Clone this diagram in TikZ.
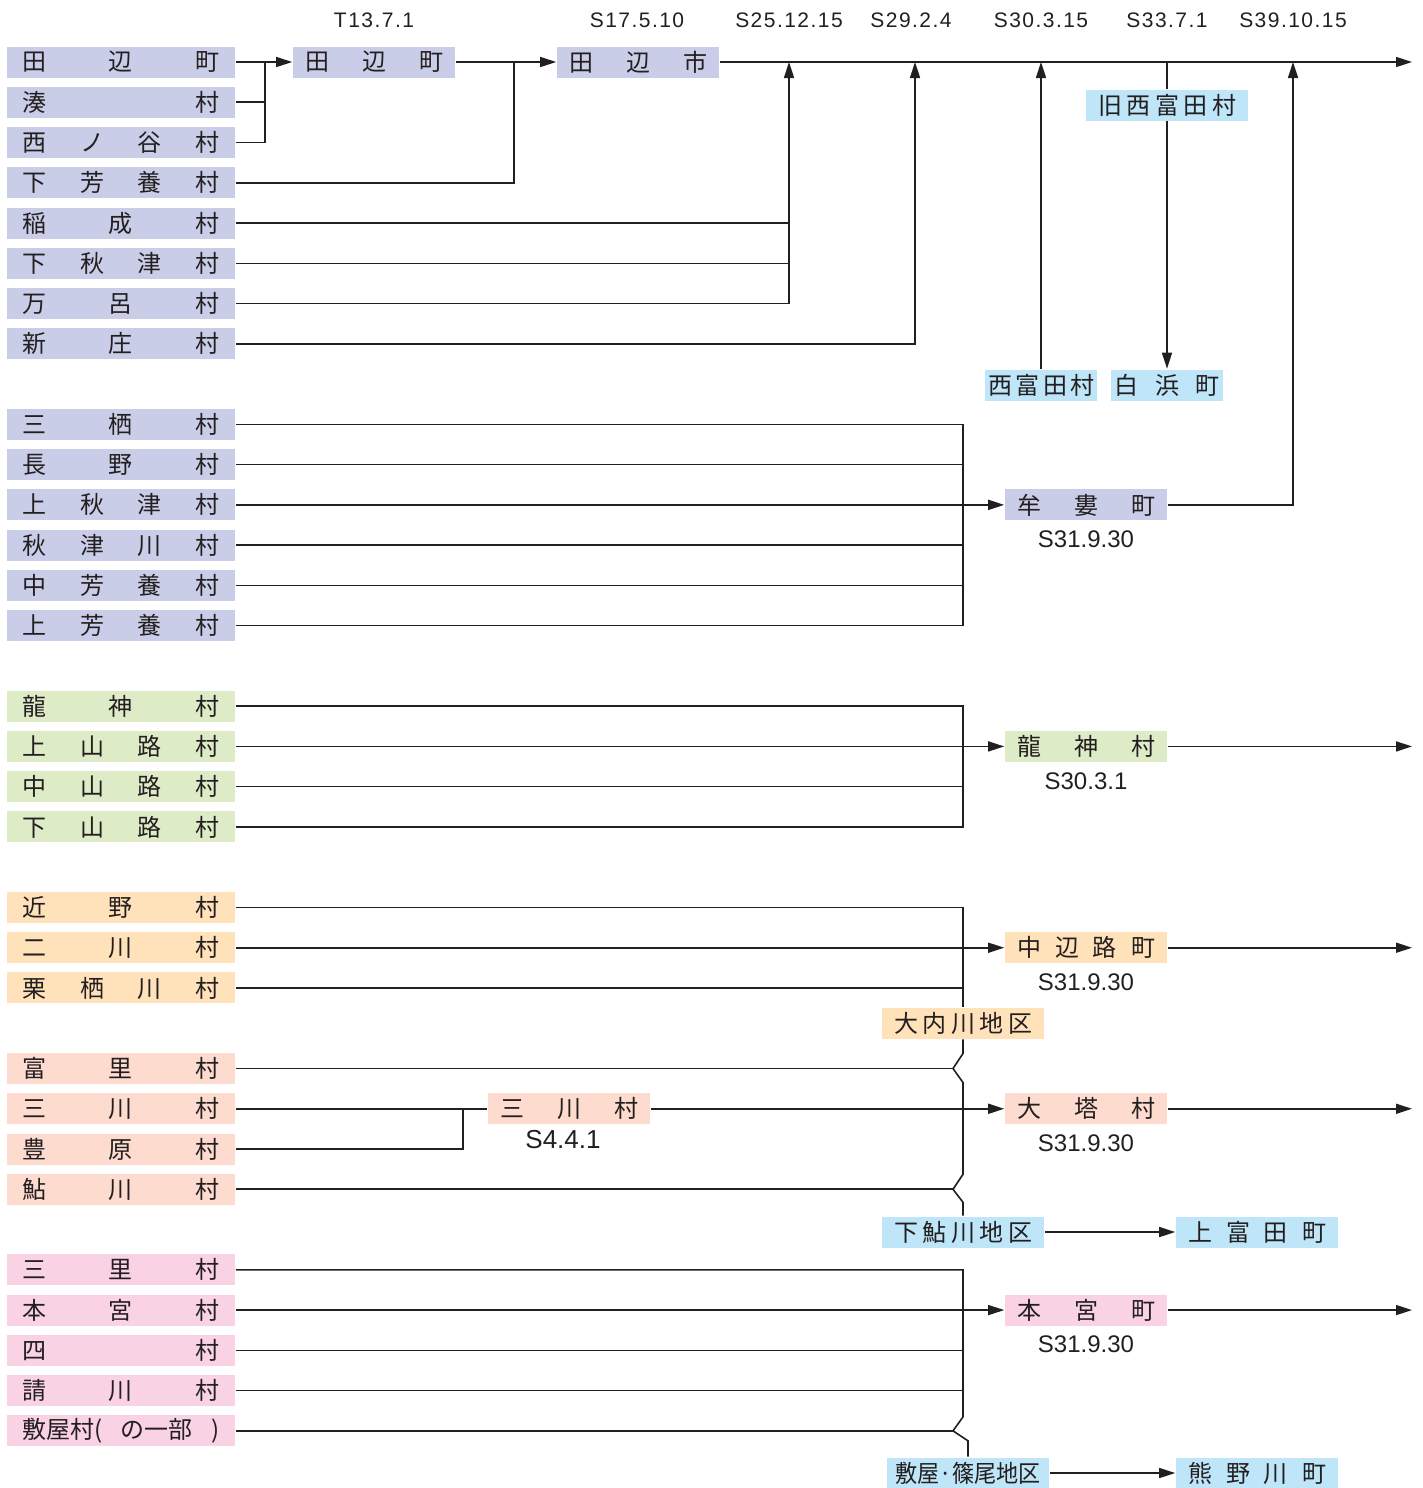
\documentclass[tikz,border=0pt]{standalone}
\usepackage{fontspec}
\usepackage{graphicx}
\usetikzlibrary{arrows.meta,positioning,calc}
\newfontfamily\jp{Noto Sans CJK JP}
\newfontfamily\numfont{Liberation Sans}
\newfontfamily\datefont[LetterSpace=7]{Liberation Sans}
\definecolor{ink}{HTML}{231F20}
\definecolor{lav}{HTML}{C9CDE7}
\definecolor{leaf}{HTML}{DDEBC7}
\definecolor{sand}{HTML}{FFE2BA}
\definecolor{peach}{HTML}{FDDCCF}
\definecolor{rose}{HTML}{F9D3E3}
\definecolor{sky}{HTML}{BEE5F8}
\newcommand{\spread}[2][98.5pt]{\makebox[#1][s]{#2}}

\begin{document}
\begin{tikzpicture}[x=0.5pt,y=-0.5pt,color=ink,line width=0.8pt,lbox/.style={minimum width=114pt,minimum height=15.5pt,inner sep=0pt,font=\jp\fontsize{12}{12}\selectfont},rbox/.style={lbox,minimum width=81pt},sbox/.style={lbox,minimum width=56pt},topdate/.style={inner sep=0pt,font=\datefont\fontsize{10.5}{10.5}\selectfont},subdate/.style={inner sep=1pt,font=\numfont\fontsize{12}{12}\selectfont},arr/.style={-{Triangle[length=8pt,width=5pt]}}]
\useasboundingbox (0,0) rectangle (1423,1488);
\def\dy{40.26};
\def\xl{121};
\def\xr{1086};

% dates along the top
\node[topdate] (dT13) at (374,20) {T13.7.1};
\node[topdate] (dS17) at (637,20) {S17.5.10};
\node[topdate] (dS25) at (789,20) {S25.12.15};
\node[topdate] (dS29) at (911,20) {S29.2.4};
\node[topdate] (dS30) at (1041,20) {S30.3.15};
\node[topdate] (dS33) at (1167,20) {S33.7.1};
\node[topdate] (dS39) at (1293,20) {S39.10.15};

% old villages
\node[lbox,fill=lav] (tanabeL) at (\xl,62) {\spread{田 辺 町}};
\node[lbox,fill=lav] (minato) at (\xl,62+\dy) {\spread{湊 村}};
\node[lbox,fill=lav] (nishinotani) at (\xl,62+2*\dy) {\spread{西 ノ 谷 村}};
\node[lbox,fill=lav] (shimohaya) at (\xl,62+3*\dy) {\spread{下 芳 養 村}};
\node[lbox,fill=lav] (inari) at (\xl,62+4*\dy) {\spread{稲 成 村}};
\node[lbox,fill=lav] (shimoakidu) at (\xl,62+5*\dy) {\spread{下 秋 津 村}};
\node[lbox,fill=lav] (mandoro) at (\xl,62+6*\dy) {\spread{万 呂 村}};
\node[lbox,fill=lav] (shinjo) at (\xl,62+7*\dy) {\spread{新 庄 村}};

\node[lbox,fill=lav] (misu) at (\xl,62+9*\dy) {\spread{三 栖 村}};
\node[lbox,fill=lav] (nagano) at (\xl,62+10*\dy) {\spread{長 野 村}};
\node[lbox,fill=lav] (kamiakidu) at (\xl,62+11*\dy) {\spread{上 秋 津 村}};
\node[lbox,fill=lav] (akidugawa) at (\xl,62+12*\dy) {\spread{秋 津 川 村}};
\node[lbox,fill=lav] (nakahaya) at (\xl,62+13*\dy) {\spread{中 芳 養 村}};
\node[lbox,fill=lav] (kamihaya) at (\xl,62+14*\dy) {\spread{上 芳 養 村}};

\node[lbox,fill=leaf] (ryujinL) at (\xl,62+16*\dy) {\spread{龍 神 村}};
\node[lbox,fill=leaf] (kamiyamaji) at (\xl,62+17*\dy) {\spread{上 山 路 村}};
\node[lbox,fill=leaf] (nakayamaji) at (\xl,62+18*\dy) {\spread{中 山 路 村}};
\node[lbox,fill=leaf] (shimoyamaji) at (\xl,62+19*\dy) {\spread{下 山 路 村}};

\node[lbox,fill=sand] (chikano) at (\xl,62+21*\dy) {\spread{近 野 村}};
\node[lbox,fill=sand] (futakawa) at (\xl,62+22*\dy) {\spread{二 川 村}};
\node[lbox,fill=sand] (kurisugawa) at (\xl,62+23*\dy) {\spread{栗 栖 川 村}};

\node[lbox,fill=peach] (tomisato) at (\xl,62+25*\dy) {\spread{富 里 村}};
\node[lbox,fill=peach] (mikawaL) at (\xl,62+26*\dy) {\spread{三 川 村}};
\node[lbox,fill=peach] (toyohara) at (\xl,62+27*\dy) {\spread{豊 原 村}};
\node[lbox,fill=peach] (ayukawa) at (\xl,62+28*\dy) {\spread{鮎 川 村}};

\node[lbox,fill=rose] (misato) at (\xl,62+30*\dy) {\spread{三 里 村}};
\node[lbox,fill=rose] (honguL) at (\xl,62+31*\dy) {\spread{本 宮 村}};
\node[lbox,fill=rose] (yotsu) at (\xl,62+32*\dy) {\spread{四 村}};
\node[lbox,fill=rose] (ukegawa) at (\xl,62+33*\dy) {\spread{請 川 村}};
\node[lbox,fill=rose] (shikiyaL) at (\xl,62+34*\dy) {\spread{敷屋村( の一部 )}};

% new towns
\node[rbox,fill=lav] (tanabeT) at (374,62) {\spread[69pt]{田 辺 町}};
\node[rbox,fill=lav] (tanabeC) at (638,62) {\spread[69pt]{田 辺 市}};
\node[rbox,fill=sky] (kyunishi) at (1167,105) {\spread[69pt]{旧 西 富 田 村}};
\node[sbox,fill=sky] (nishitomida) at (1041,385) {\spread[53pt]{西 富 田 村}};
\node[sbox,fill=sky] (shirahama) at (1167,385) {\spread[53pt]{白 浜 町}};
\node[rbox,fill=lav] (muro) at (\xr,62+11*\dy) {\spread[69pt]{牟 婁 町}};
\node[rbox,fill=leaf] (ryujinM) at (\xr,62+17*\dy) {\spread[69pt]{龍 神 村}};
\node[rbox,fill=sand] (nakahechi) at (\xr,62+22*\dy) {\spread[69pt]{中 辺 路 町}};
\node[rbox,fill=sand] (ouchi) at (963,1023) {\spread[69pt]{大 内 川 地 区}};
\node[rbox,fill=peach] (mikawaM) at (569,62+26*\dy) {\spread[69pt]{三 川 村}};
\node[rbox,fill=peach] (oto) at (\xr,62+26*\dy) {\spread[69pt]{大 塔 村}};
\node[rbox,fill=sky] (shimoayu) at (963,1232) {\spread[69pt]{下 鮎 川 地 区}};
\node[rbox,fill=sky] (kamitonda) at (1257,1232) {\spread[69pt]{上 富 田 町}};
\node[rbox,fill=rose] (honguM) at (\xr,62+31*\dy) {\spread[69pt]{本 宮 町}};
\node[rbox,fill=sky] (shikiyaM) at (968,1473) {\scalebox{0.92}[1]{敷屋·篠尾地区}};
\node[rbox,fill=sky] (kumano) at (1257,1473) {\spread[69pt]{熊 野 川 町}};

\node[subdate,below=3.5pt of muro] (dMuro) {S31.9.30};
\node[subdate,below=3.5pt of ryujinM] (dRyujin) {S30.3.1};
\node[subdate,below=3.5pt of nakahechi] (dNakahechi) {S31.9.30};
\node[subdate,below=3.5pt of oto] (dOto) {S31.9.30};
\node[subdate,below=3.5pt of honguM] (dHongu) {S31.9.30};
\node[subdate,font=\numfont\fontsize{13}{13}\selectfont] (dMikawa) at (563,1140) {S4.4.1};

% junctions
\coordinate (jA) at (265,62);
\coordinate (jB) at (514,62);
\coordinate (jC) at (789,62);
\coordinate (jD) at (915,62);
\coordinate (jE) at (1041,62);
\coordinate (jF) at (1167,62);
\coordinate (jG) at (1293,62);
\coordinate (jM) at (463,62+26*\dy);
\coordinate (bm) at (963,0);
\coordinate (eR) at (1412,0);
\coordinate (kA) at (953,62+25*\dy);
\coordinate (kB) at (953,62+28*\dy);
\coordinate (kC) at (953,62+34*\dy);

% Tanabe line
\draw[arr] (tanabeL.east) -- (tanabeT.west);
\draw (minato.east) -| (jA);
\draw (nishinotani.east) -| (jA);
\draw[arr] (tanabeT.east) -- (tanabeC.west);
\draw (shimohaya.east) -| (jB);
\draw[arr] (tanabeC.east) -- (tanabeC.east -| eR);
\draw (inari.east) -- (inari.east -| jC);
\draw (shimoakidu.east) -- (shimoakidu.east -| jC);
\draw[arr] (mandoro.east) -| (jC);
\draw[arr] (shinjo.east) -| (jD);
\draw[arr] (nishitomida.north) -- (jE);
\draw (jF) -- (kyunishi.north);
\draw[arr] (kyunishi.south) -- (shirahama.north);
\draw[arr] (muro.east) -| (jG);

% Muro
\draw (misu.east) -- (misu.east -| bm) -- (kamihaya.east -| bm) -- (kamihaya.east);
\draw (nagano.east) -- (nagano.east -| bm);
\draw[arr] (kamiakidu.east) -- (muro.west);
\draw (akidugawa.east) -- (akidugawa.east -| bm);
\draw (nakahaya.east) -- (nakahaya.east -| bm);

% Ryujin
\draw (ryujinL.east) -- (ryujinL.east -| bm) -- (shimoyamaji.east -| bm) -- (shimoyamaji.east);
\draw[arr] (kamiyamaji.east) -- (ryujinM.west);
\draw (nakayamaji.east) -- (nakayamaji.east -| bm);
\draw[arr] (ryujinM.east) -- (ryujinM.east -| eR);

% Nakahechi
\draw (chikano.east) -- (chikano.east -| bm) -- (ouchi.north);
\draw[arr] (futakawa.east) -- (nakahechi.west);
\draw (kurisugawa.east) -- (kurisugawa.east -| bm);
\draw[arr] (nakahechi.east) -- (nakahechi.east -| eR);

% Oto
\draw (ouchi.south) -- ($(kA)+(10,-15)$) -- (kA) -- ($(kA)+(10,14)$) -- ($(kB)+(10,-15)$) -- (kB) -- ($(kB)+(10,13)$) -- (shimoayu.north);
\draw (tomisato.east) -- (kA);
\draw (ayukawa.east) -- (kB);
\draw (mikawaL.east) -- (mikawaM.west);
\draw (toyohara.east) -| (jM);
\draw[arr] (mikawaM.east) -- (oto.west);
\draw[arr] (oto.east) -- (oto.east -| eR);
\draw[arr] (shimoayu.east) -- (kamitonda.west);

% Hongu
\draw (misato.east) -- (misato.east -| bm) -- ($(kC)+(10,-14)$) -- (kC) -- ($(kC)+(15,10)$) -- (shikiyaM.north);
\draw[arr] (honguL.east) -- (honguM.west);
\draw (yotsu.east) -- (yotsu.east -| bm);
\draw (ukegawa.east) -- (ukegawa.east -| bm);
\draw (shikiyaL.east) -- (kC);
\draw[arr] (honguM.east) -- (honguM.east -| eR);
\draw[arr] (shikiyaM.east) -- (kumano.west);
\end{tikzpicture}
\end{document}
